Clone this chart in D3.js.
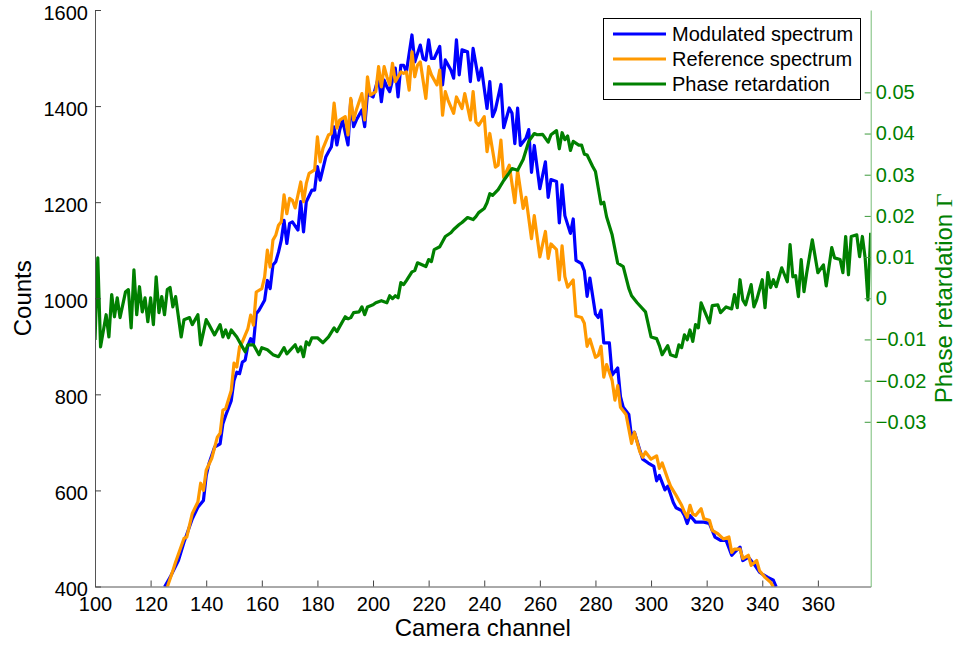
<!DOCTYPE html>
<html>
<head>
<meta charset="utf-8">
<script src="https://cdn.jsdelivr.net/npm/d3@7"></script>
<style>
  html, body { margin: 0; padding: 0; background: #fff; }
  svg { display: block; font-family: "Liberation Sans", Arial, Helvetica, sans-serif; }
</style>
</head>
<body>
<svg id="chart" width="961" height="646"></svg>
<script>
// Modulated spectrum (counts per camera channel)
const modChannel = [125,127,130,132,135,137,139,140,141,143,145,146,147,149,150,151,152,153,154,155,156,157,158,159,161,162,163,164,165,166,167,168,169,170,171,173,174,175,176,178,179,180,181,183,184,185,186,187,188,189,191,192,193,194,196,197,198,200,202,203,204,205,206,208,209,210,211,212,214,215,217,218,219,220,221,222,224,225,226,228,229,230,231,232,234,235,236,238,239,241,242,243,244,246,247,249,250,251,252,253,255,256,257,258,260,262,263,264,266,267,268,269,271,272,273,275,276,277,278,280,281,282,283,285,286,288,289,290,292,293,294,296,297,299,301,302,303,305,306,308,309,311,312,313,314,316,317,319,321,323,325,327,329,330,332,333,335,337,339,340,342,344,345];
const modCounts = [399,419,454,492,541,565,579,631,656,690,697,739,756,787,829,846,843,867,871,902,916,906,968,975,996,1037,1020,1069,1076,1096,1121,1162,1114,1156,1159,1142,1201,1138,1201,1225,1225,1274,1246,1294,1305,1315,1357,1319,1350,1371,1319,1413,1357,1371,1392,1357,1426,1419,1461,1409,1454,1440,1430,1479,1419,1485,1485,1471,1548,1492,1527,1499,1496,1538,1499,1499,1524,1444,1496,1475,1458,1538,1465,1517,1513,1451,1520,1454,1479,1395,1451,1378,1392,1445,1355,1396,1385,1322,1396,1318,1333,1351,1262,1318,1228,1284,1210,1247,1243,1157,1236,1172,1135,1165,1079,1072,1057,1004,1042,967,960,975,907,907,840,855,795,773,758,710,721,683,665,657,650,620,631,601,609,575,564,558,548,531,548,534,534,534,531,503,496,496,465,471,482,454,461,447,430,426,419,413,399];

// Reference spectrum
const refChannel = [126,128,129,132,133,135,137,138,139,140,142,144,145,146,147,149,150,151,152,153,155,156,157,158,160,161,162,163,164,165,166,167,168,169,170,171,172,174,175,176,177,179,180,181,182,184,185,186,187,188,190,191,192,193,194,196,197,198,199,201,202,203,204,205,206,207,208,210,211,212,213,214,215,216,217,219,220,221,223,224,225,226,227,229,230,232,233,235,236,237,238,240,241,242,244,245,246,247,249,251,252,254,255,257,258,260,262,263,264,266,267,268,269,270,272,273,275,276,277,278,280,281,282,283,284,286,287,288,289,291,293,294,296,297,298,300,302,303,304,306,307,309,311,312,313,314,315,316,318,319,321,322,324,326,328,329,330,332,333,335,336,338,339,340,341,343,344];
const refCounts = [399,433,451,500,503,552,576,615,600,642,667,711,719,767,770,808,865,857,899,909,937,965,944,1013,1020,1044,1100,1065,1121,1131,1152,1159,1215,1176,1208,1204,1188,1242,1201,1239,1260,1267,1336,1284,1312,1340,1343,1406,1354,1371,1378,1340,1416,1371,1392,1426,1371,1461,1423,1430,1482,1440,1482,1461,1444,1489,1451,1471,1468,1471,1433,1513,1461,1485,1492,1416,1482,1465,1444,1475,1381,1430,1412,1385,1419,1395,1426,1371,1430,1367,1360,1378,1305,1343,1273,1277,1329,1251,1277,1199,1266,1187,1210,1124,1172,1086,1139,1083,1113,1101,1038,1109,1045,1023,1038,963,960,948,900,915,877,881,900,836,862,829,788,818,773,758,698,721,680,669,680,665,672,646,657,624,609,590,569,555,544,569,551,548,562,541,538,517,510,499,503,471,478,478,458,465,444,454,433,426,419,409,399];

// Phase retardation Γ (right axis)
const phaseChannel = [100,101,102,104,105,106,107,108,109,111,112,113,114,115,116,117,118,119,120,121,122,123,124,125,126,127,128,129,131,132,134,135,137,138,140,141,143,145,146,147,148,149,151,153,154,155,157,159,160,162,164,166,168,169,172,173,174,175,176,177,178,180,182,184,186,187,190,191,192,193,195,196,197,198,200,201,203,205,206,207,208,209,210,211,212,214,215,216,219,220,221,222,224,226,228,229,231,232,234,236,237,238,240,241,242,243,245,247,249,250,252,254,255,256,258,259,261,263,264,266,267,268,269,270,271,272,274,275,276,277,279,280,282,283,284,286,288,290,292,293,295,298,300,302,303,304,306,307,309,310,311,312,313,314,315,316,317,318,321,322,324,325,327,329,330,331,332,333,334,336,337,338,340,341,342,343,344,345,347,349,350,351,352,353,354,355,356,358,360,362,363,365,366,368,369,370,371,372,374,375,376,377,378,379];
const phaseValues = [-0.0101,0.0098,-0.0118,-0.0040,-0.0094,0.0009,-0.0045,0.0001,-0.0047,0.0016,0.0021,-0.0072,0.0069,-0.0040,0.0028,-0.0033,0.0001,-0.0057,0.0001,-0.0064,0.0052,-0.0035,0.0004,-0.0040,0.0021,0.0026,-0.0021,0.0004,-0.0094,-0.0052,-0.0047,-0.0064,-0.0040,-0.0113,-0.0052,-0.0064,-0.0089,-0.0064,-0.0094,-0.0077,-0.0096,-0.0077,-0.0094,-0.0118,-0.0130,-0.0113,-0.0113,-0.0137,-0.0120,-0.0125,-0.0137,-0.0142,-0.0120,-0.0135,-0.0113,-0.0130,-0.0118,-0.0142,-0.0106,-0.0113,-0.0096,-0.0096,-0.0108,-0.0094,-0.0072,-0.0081,-0.0045,-0.0050,-0.0047,-0.0035,-0.0033,-0.0021,-0.0040,-0.0021,-0.0016,-0.0011,-0.0006,-0.0011,0.0006,-0.0001,0.0006,0.0001,0.0038,0.0033,0.0043,0.0064,0.0067,0.0086,0.0077,0.0094,0.0089,0.0118,0.0125,0.0150,0.0159,0.0167,0.0179,0.0184,0.0196,0.0191,0.0198,0.0208,0.0218,0.0232,0.0254,0.0250,0.0264,0.0286,0.0305,0.0315,0.0311,0.0337,0.0359,0.0381,0.0400,0.0397,0.0398,0.0379,0.0397,0.0407,0.0363,0.0402,0.0385,0.0394,0.0359,0.0381,0.0372,0.0372,0.0350,0.0348,0.0320,0.0308,0.0229,0.0233,0.0198,0.0154,0.0085,0.0077,0.0024,0.0006,-0.0011,-0.0033,-0.0094,-0.0098,-0.0115,-0.0137,-0.0115,-0.0137,-0.0142,-0.0113,-0.0120,-0.0089,-0.0101,-0.0077,-0.0105,-0.0064,-0.0072,-0.0011,-0.0060,-0.0018,-0.0016,-0.0035,-0.0021,-0.0026,0.0009,-0.0023,0.0045,-0.0004,-0.0016,0.0033,-0.0021,-0.0004,0.0045,-0.0023,0.0062,0.0026,0.0045,0.0028,0.0074,0.0040,0.0130,0.0052,0.0055,0.0004,0.0094,0.0016,0.0062,0.0142,0.0062,0.0081,0.0030,0.0123,0.0098,0.0094,0.0062,0.0150,0.0057,0.0150,0.0154,0.0101,0.0150,0.0098,-0.0004,0.0159];

// Axis ticks
const channelTicks = [100,120,140,160,180,200,220,240,260,280,300,320,340,360];
const countTicks = [400,600,800,1000,1200,1400,1600];
const phaseTicks = [-0.03,-0.02,-0.01,0,0.01,0.02,0.03,0.04,0.05];

const seriesNames = ["Modulated spectrum","Reference spectrum","Phase retardation"];
const seriesColors = ["#0000ff","#ff9900","#008000"];

const svg = d3.select("#chart");
const plot = { left: 95, right: 870.7, top: 10, bottom: 586.5 };

const x = d3.scaleLinear().domain([100, 379]).range([plot.left, plot.right]);
const yCounts = d3.scaleLinear().domain([400, 1600]).range([plot.bottom, plot.top]);
const yPhase = d3.scaleLinear().domain([-0.07, 0.07]).range([plot.bottom, plot.top]);

svg.append("defs").append("clipPath").attr("id", "plot-clip")
  .append("rect")
  .attr("x", plot.left).attr("y", plot.top)
  .attr("width", plot.right - plot.left).attr("height", plot.bottom - plot.top);

const lines = svg.append("g").attr("clip-path", "url(#plot-clip)");

const countLine = d3.line().x(d => x(d[0])).y(d => yCounts(d[1]));
const phaseLine = d3.line().x(d => x(d[0])).y(d => yPhase(d[1]));

lines.append("path")
  .datum(d3.zip(modChannel, modCounts))
  .attr("d", countLine)
  .attr("fill", "none").attr("stroke", seriesColors[0])
  .attr("stroke-width", 3.2).attr("stroke-linejoin", "round");

lines.append("path")
  .datum(d3.zip(refChannel, refCounts))
  .attr("d", countLine)
  .attr("fill", "none").attr("stroke", seriesColors[1])
  .attr("stroke-width", 3.2).attr("stroke-linejoin", "round");

lines.append("path")
  .datum(d3.zip(phaseChannel, phaseValues))
  .attr("d", phaseLine)
  .attr("fill", "none").attr("stroke", seriesColors[2])
  .attr("stroke-width", 3.2).attr("stroke-linejoin", "round");

// Bottom axis
const xAxis = svg.append("g")
  .attr("transform", `translate(0,${plot.bottom})`)
  .call(d3.axisBottom(x).tickValues(channelTicks).tickFormat(d3.format("d"))
    .tickSizeInner(-6).tickSizeOuter(0).tickPadding(10));
xAxis.select(".domain").attr("stroke", "#555");
xAxis.selectAll(".tick line").attr("stroke", "#444");
xAxis.selectAll(".tick text").attr("font-size", 20).attr("fill", "#000");

// Left axis
const yAxis = svg.append("g")
  .attr("transform", `translate(${plot.left},0)`)
  .call(d3.axisLeft(yCounts).tickValues(countTicks).tickFormat(d3.format("d"))
    .tickSizeInner(-6).tickSizeOuter(0).tickPadding(7));
yAxis.select(".domain").attr("stroke", "#555");
yAxis.selectAll(".tick line").attr("stroke", "#444");
yAxis.selectAll(".tick text").attr("font-size", 20).attr("fill", "#000").attr("dy", "0.45em");

// Right axis
const phaseFmt = d => d === 0 ? "0" : d3.format(".2f")(d);
const y2Axis = svg.append("g")
  .attr("transform", `translate(${plot.right},0)`)
  .call(d3.axisRight(yPhase).tickValues(phaseTicks).tickFormat(phaseFmt)
    .tickSizeInner(-6).tickSizeOuter(0).tickPadding(5));
y2Axis.select(".domain").attr("stroke", "#78bd78");
y2Axis.selectAll(".tick line").attr("stroke", "#3c9a3c");
y2Axis.selectAll(".tick text").attr("font-size", 20).attr("fill", "#008000");

// Axis titles
svg.append("text")
  .attr("x", (plot.left + plot.right) / 2).attr("y", 636)
  .attr("text-anchor", "middle").attr("font-size", 24).attr("fill", "#000")
  .text("Camera channel");

svg.append("text")
  .attr("transform", `translate(31,${(plot.top + plot.bottom) / 2}) rotate(-90)`)
  .attr("text-anchor", "middle").attr("font-size", 24).attr("fill", "#000")
  .text("Counts");

const phaseTitle = svg.append("text")
  .attr("transform", `translate(952,${(plot.top + plot.bottom) / 2}) rotate(-90)`)
  .attr("text-anchor", "middle").attr("font-size", 24).attr("fill", "#008000");
phaseTitle.append("tspan").text("Phase retardation ");
phaseTitle.append("tspan").attr("font-family", "'Liberation Serif', 'DejaVu Serif', serif").text("\u0393");

// Legend
const legend = svg.append("g").attr("transform", "translate(603,18)");
legend.append("rect")
  .attr("x", 0.5).attr("y", 0.5).attr("width", 257).attr("height", 81)
  .attr("fill", "#fff").attr("stroke", "#000").attr("stroke-width", 1);
seriesNames.forEach((name, i) => {
  const row = legend.append("g").attr("transform", `translate(0,${16 + i * 25})`);
  row.append("line").attr("x1", 10).attr("x2", 63).attr("y1", 0).attr("y2", 0)
    .attr("stroke", seriesColors[i]).attr("stroke-width", 3.2);
  row.append("text").attr("x", 69).attr("y", 0).attr("dy", "0.35em")
    .attr("font-size", 20).attr("fill", "#000").text(name);
});
</script>
</body>
</html>
